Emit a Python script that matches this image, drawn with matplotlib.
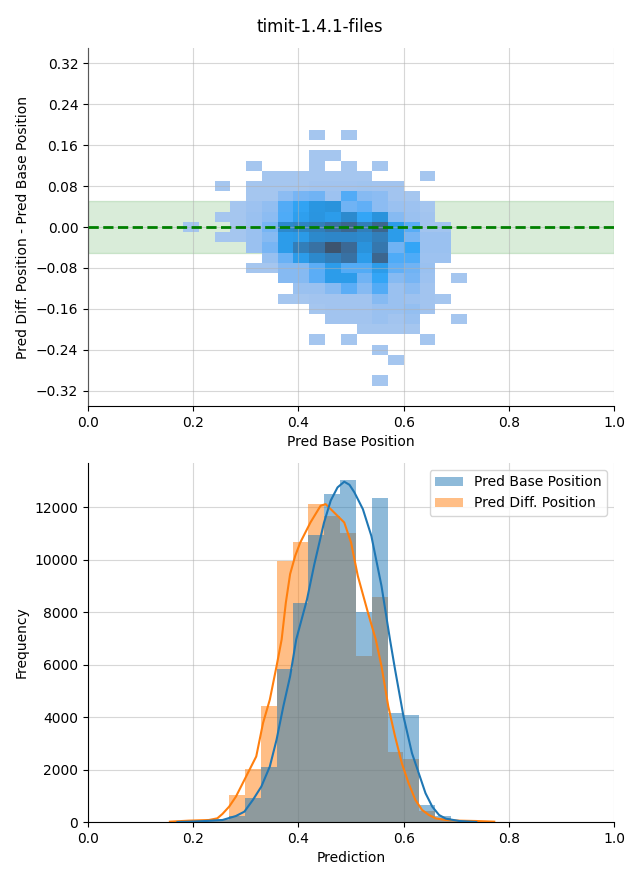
import numpy as np
import matplotlib
matplotlib.use("Agg")
import matplotlib.pyplot as plt
from matplotlib.patches import Patch
import seaborn as sns

# ---------------- data: top panel (2D histogram) ----------------
x_bin_start = 0.1805
x_bin_width = 0.03
y_bin_start = -0.31
y_bin_width = 0.02
# rows from top (y = 0.18) to bottom (y = -0.30); 18 columns (x = 0.195 ... 0.705)
hist2d_counts = [
    [0, 0, 0, 0, 0, 0, 0, 0, 3, 0, 3, 0, 0, 0, 0, 0, 0, 0],
    [0, 0, 0, 0, 0, 0, 0, 0, 0, 0, 0, 0, 0, 0, 0, 0, 0, 0],
    [0, 0, 0, 0, 0, 0, 0, 0, 3, 3, 0, 0, 0, 0, 0, 0, 0, 0],
    [0, 0, 0, 0, 3, 0, 0, 0, 3, 0, 3, 0, 3, 0, 0, 0, 0, 0],
    [0, 0, 0, 0, 0, 3, 3, 3, 3, 3, 3, 3, 0, 0, 0, 3, 0, 0],
    [0, 0, 3, 0, 3, 3, 3, 3, 4, 4, 4, 5, 4, 4, 0, 0, 0, 0],
    [0, 0, 0, 0, 3, 3, 12, 18, 20, 6, 27, 14, 12, 4, 3, 0, 0, 0],
    [0, 0, 0, 3, 6, 10, 27, 35, 45, 48, 20, 24, 12, 7, 6, 3, 0, 0],
    [0, 0, 3, 3, 7, 12, 28, 38, 46, 40, 55, 33, 48, 14, 7, 4, 0, 0],
    [3, 0, 0, 3, 7, 18, 56, 60, 65, 75, 85, 65, 85, 40, 26, 4, 4, 0],
    [0, 0, 3, 3, 7, 14, 40, 42, 56, 58, 58, 55, 65, 40, 18, 7, 7, 0],
    [0, 0, 0, 0, 7, 18, 40, 65, 75, 100, 82, 48, 70, 20, 33, 7, 7, 0],
    [0, 0, 0, 0, 0, 8, 22, 40, 56, 65, 75, 40, 85, 28, 28, 6, 6, 0],
    [0, 0, 0, 0, 3, 3, 14, 14, 25, 40, 27, 27, 40, 24, 20, 7, 0, 0],
    [0, 0, 0, 0, 0, 0, 14, 14, 25, 40, 40, 20, 33, 14, 18, 6, 0, 3],
    [0, 0, 0, 0, 0, 0, 0, 7, 7, 14, 25, 14, 27, 7, 12, 4, 0, 0],
    [0, 0, 0, 0, 0, 0, 3, 3, 4, 4, 4, 4, 14, 7, 6, 4, 3, 0],
    [0, 0, 0, 0, 0, 0, 0, 0, 3, 4, 4, 4, 7, 7, 9, 4, 0, 0],
    [0, 0, 0, 0, 0, 0, 0, 0, 0, 4, 4, 4, 7, 4, 7, 0, 0, 3],
    [0, 0, 0, 0, 0, 0, 0, 0, 0, 0, 0, 3, 3, 3, 3, 0, 0, 0],
    [0, 0, 0, 0, 0, 0, 0, 0, 3, 0, 3, 0, 0, 0, 0, 3, 0, 0],
    [0, 0, 0, 0, 0, 0, 0, 0, 0, 0, 0, 0, 3, 0, 0, 0, 0, 0],
    [0, 0, 0, 0, 0, 0, 0, 0, 0, 0, 0, 0, 0, 3, 0, 0, 0, 0],
    [0, 0, 0, 0, 0, 0, 0, 0, 0, 0, 0, 0, 0, 0, 0, 0, 0, 0],
    [0, 0, 0, 0, 0, 0, 0, 0, 0, 0, 0, 0, 3, 0, 0, 0, 0, 0],
]
top_yticks = [-0.32, -0.24, -0.16, -0.08, 0.0, 0.08, 0.16, 0.24, 0.32]

# ---------------- data: bottom panel (1D histograms + KDE) ----------------
hist_bin_start = 0.148
hist_bin_width = 0.0301
base_counts = [0, 10, 30, 110, 229, 905, 2102, 5846, 8330, 10955, 12507,
               13030, 8012, 12342, 4165, 4089, 650, 229, 90, 20, 0]
diff_counts = [10, 30, 60, 60, 1032, 2013, 4432, 9935, 10661, 12113, 11655,
               11017, 6343, 8571, 2649, 2407, 420, 150, 60, 30, 10]

base_kde_x = [0.170, 0.190, 0.2233, 0.2555, 0.2812, 0.2973, 0.3134, 0.3295,
              0.3456, 0.3584, 0.3713, 0.3842, 0.3958, 0.4163, 0.430, 0.4485,
              0.4614, 0.4743, 0.4871, 0.4970, 0.5064, 0.5225, 0.5386, 0.5579,
              0.574, 0.5837, 0.5997, 0.6158, 0.6287, 0.6416, 0.6544, 0.6673,
              0.6802, 0.7059, 0.738]
base_kde_y = [0, 10, 38, 76, 229, 395, 841, 1350, 2115, 3133, 4407, 5554,
              6955, 8483, 9800, 11400, 12250, 12750, 12967, 12850, 12560,
              11922, 10903, 8993, 6955, 5808, 4025, 2624, 1860, 1095, 586,
              267, 127, 38, 0]
diff_kde_x = [0.1557, 0.1911, 0.2297, 0.2458, 0.2555, 0.2683, 0.2812, 0.2941,
              0.3069, 0.3198, 0.3327, 0.3456, 0.3584, 0.3681, 0.3760, 0.3842,
              0.3940, 0.4035, 0.4228, 0.4421, 0.4517, 0.4678, 0.4871, 0.5,
              0.5129, 0.5322, 0.547, 0.5579, 0.5708, 0.5837, 0.5965, 0.6094,
              0.6223, 0.6351, 0.648, 0.6609, 0.6802, 0.7059, 0.738, 0.7722]
diff_kde_y = [13, 51, 76, 140, 306, 586, 968, 1478, 1987, 2497, 3770, 4662,
              5936, 6955, 8350, 9450, 10150, 10650, 11413, 12050, 12113,
              11795, 11413, 10650, 9375, 7974, 6955, 5936, 4407, 3261, 2242,
              1478, 841, 459, 267, 140, 76, 51, 38, 13]

series_labels = ["Pred Base Position", "Pred Diff. Position"]

# ---------------- figure ----------------
fig = plt.figure(figsize=(6.4, 8.8), dpi=100)
ax1 = fig.add_axes([0.1375, 0.5386, 0.822, 0.4068])
ax2 = fig.add_axes([0.1375, 0.0659, 0.822, 0.408])
fig.suptitle("timit-1.4.1-files", fontsize=12, y=0.979)

# ---- top panel ----
counts = np.array(hist2d_counts, dtype=float)[::-1]  # bottom row first
ny, nx = counts.shape
x_edges = x_bin_start + x_bin_width * np.arange(nx + 1)
y_edges = y_bin_start + y_bin_width * np.arange(ny + 1)
xc = (x_edges[:-1] + x_edges[1:]) / 2
yc = (y_edges[:-1] + y_edges[1:]) / 2
XX, YY = np.meshgrid(xc, yc)
mask = counts > 0

ax1.axhspan(-0.05, 0.05, color="green", alpha=0.15, zorder=0.5)
sns.histplot(x=XX[mask], y=YY[mask], weights=counts[mask],
             bins=[x_edges, y_edges], ax=ax1, color="C0")
ax1.axhline(0, color="green", linestyle="--", linewidth=2, zorder=3)
ax1.set_xlim(0, 1)
ax1.set_ylim(-0.35, 0.35)
ax1.set_yticks(top_yticks)
ax1.grid(True, alpha=0.5)
ax1.set_axisbelow(False)
for gl in ax1.get_xgridlines() + ax1.get_ygridlines():
    gl.set_zorder(1.5)
ax1.set_xlabel("Pred Base Position")
ax1.set_ylabel("Pred Diff. Position - Pred Base Position")
ax1.spines["top"].set_visible(False)
ax1.spines["right"].set_visible(False)

# ---- bottom panel ----
lefts = hist_bin_start + hist_bin_width * np.arange(len(base_counts))
ax2.bar(lefts, diff_counts, width=hist_bin_width, align="edge",
        color="C1", alpha=0.5, linewidth=0)
ax2.bar(lefts, base_counts, width=hist_bin_width, align="edge",
        color="C0", alpha=0.5, linewidth=0)
ax2.plot(diff_kde_x, diff_kde_y, color="C1", linewidth=1.5)
ax2.plot(base_kde_x, base_kde_y, color="C0", linewidth=1.5)
ax2.set_xlim(0, 1)
ax2.set_ylim(0, max(base_counts) * 1.05)
ax2.grid(True, alpha=0.5)
ax2.set_axisbelow(True)
ax2.set_xlabel("Prediction")
ax2.set_ylabel("Frequency")
ax2.spines["top"].set_visible(False)
ax2.spines["right"].set_visible(False)
handles = [Patch(facecolor="C0", alpha=0.5, linewidth=0),
           Patch(facecolor="C1", alpha=0.5, linewidth=0)]
ax2.legend(handles, series_labels, loc="upper right")

fig.savefig("out.png", dpi=100)
